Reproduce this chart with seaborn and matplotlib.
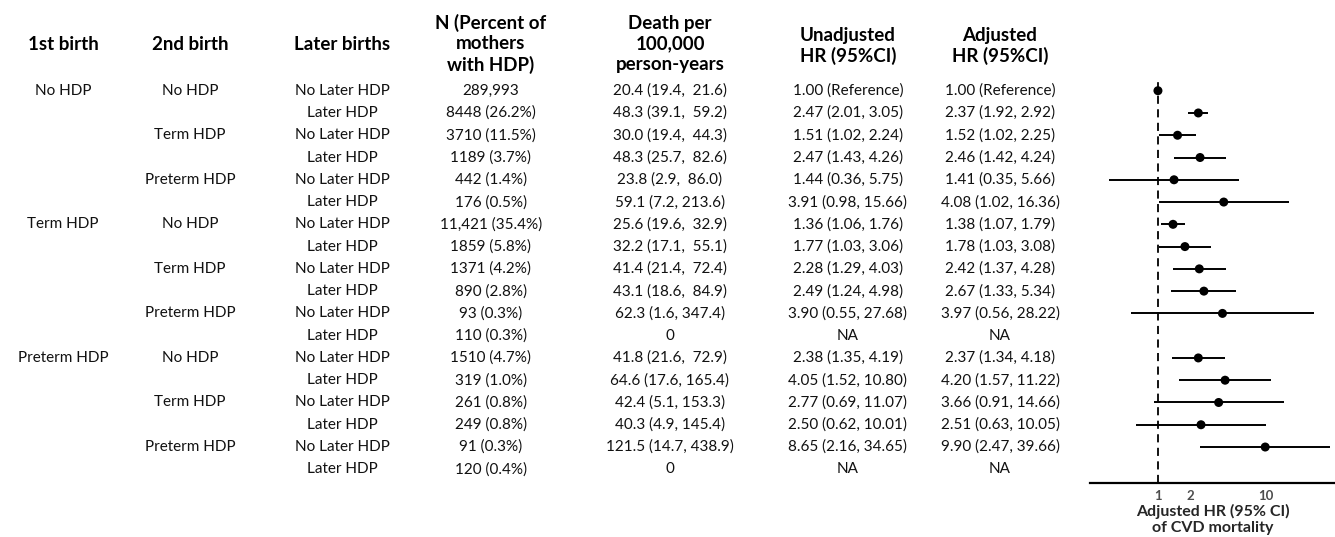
import numpy as np
import pandas as pd
import matplotlib
matplotlib.use("Agg")
import matplotlib.pyplot as plt
import matplotlib.transforms as mtransforms
import seaborn as sns

nan = np.nan

first_birth = ["No HDP", "", "", "", "", "", "Term HDP", "", "", "", "", "",
               "Preterm HDP", "", "", "", "", ""]
second_birth = ["No HDP", "", "Term HDP", "", "Preterm HDP", "",
                "No HDP", "", "Term HDP", "", "Preterm HDP", "",
                "No HDP", "", "Term HDP", "", "Preterm HDP", ""]
later_births = ["No Later HDP", "Later HDP"] * 9

n_text = ["289,993", "8448 (26.2%)", "3710 (11.5%)", "1189 (3.7%)", "442 (1.4%)",
          "176 (0.5%)", "11,421 (35.4%)", "1859 (5.8%)", "1371 (4.2%)", "890 (2.8%)",
          "93 (0.3%)", "110 (0.3%)", "1510 (4.7%)", "319 (1.0%)", "261 (0.8%)",
          "249 (0.8%)", "91 (0.3%)", "120 (0.4%)"]
death_text = ["20.4 (19.4,  21.6)", "48.3 (39.1,  59.2)", "30.0 (19.4,  44.3)",
              "48.3 (25.7,  82.6)", "23.8 (2.9,  86.0)", "59.1 (7.2, 213.6)",
              "25.6 (19.6,  32.9)", "32.2 (17.1,  55.1)", "41.4 (21.4,  72.4)",
              "43.1 (18.6,  84.9)", "62.3 (1.6, 347.4)", "0",
              "41.8 (21.6,  72.9)", "64.6 (17.6, 165.4)", "42.4 (5.1, 153.3)",
              "40.3 (4.9, 145.4)", "121.5 (14.7, 438.9)", "0"]

unadj_hr = [1.00, 2.47, 1.51, 2.47, 1.44, 3.91, 1.36, 1.77, 2.28, 2.49, 3.90, nan,
            2.38, 4.05, 2.77, 2.50, 8.65, nan]
unadj_lo = [nan, 2.01, 1.02, 1.43, 0.36, 0.98, 1.06, 1.03, 1.29, 1.24, 0.55, nan,
            1.35, 1.52, 0.69, 0.62, 2.16, nan]
unadj_hi = [nan, 3.05, 2.24, 4.26, 5.75, 15.66, 1.76, 3.06, 4.03, 4.98, 27.68, nan,
            4.19, 10.80, 11.07, 10.01, 34.65, nan]
adj_hr = [1.00, 2.37, 1.52, 2.46, 1.41, 4.08, 1.38, 1.78, 2.42, 2.67, 3.97, nan,
          2.37, 4.20, 3.66, 2.51, 9.90, nan]
adj_lo = [nan, 1.92, 1.02, 1.42, 0.35, 1.02, 1.07, 1.03, 1.37, 1.33, 0.56, nan,
          1.34, 1.57, 0.91, 0.63, 2.47, nan]
adj_hi = [nan, 2.92, 2.25, 4.24, 5.66, 16.36, 1.79, 3.08, 4.28, 5.34, 28.22, nan,
          4.18, 11.22, 14.66, 10.05, 39.66, nan]

headers = ["1st birth", "2nd birth", "Later births",
           "N (Percent of\nmothers\nwith HDP)", "Death per\n100,000\nperson-years",
           "Unadjusted\nHR (95%CI)", "Adjusted\nHR (95%CI)"]
x_ticks = [1, 2, 10]
x_label = "Adjusted HR (95% CI)\nof CVD mortality"


def fmt_hr(h, lo, hi):
    if np.isnan(h):
        return "NA"
    if np.isnan(lo):
        return f"{h:.2f} (Reference)"
    return f"{h:.2f} ({lo:.2f}, {hi:.2f})"


df = pd.DataFrame({
    "row": np.arange(len(n_text)),
    "first": first_birth, "second": second_birth, "later": later_births,
    "n": n_text, "death": death_text,
    "unadj": [fmt_hr(*t) for t in zip(unadj_hr, unadj_lo, unadj_hi)],
    "adj": [fmt_hr(*t) for t in zip(adj_hr, adj_lo, adj_hi)],
    "hr": adj_hr, "lo": adj_lo, "hi": adj_hi,
})

sns.set_theme(style="white")
plt.rcParams["font.family"] = ["Lato", "DejaVu Sans"]

W, H = 1335, 537
fig = plt.figure(figsize=(W / 100, H / 100), dpi=100)

# forest plot axes
row0_px, row_step = 90.7, 22.27
ax_left, ax_right = 1090, 1335
ax_top, ax_bot = 78, 482.7
ax = fig.add_axes([ax_left / W, 1 - ax_bot / H, (ax_right - ax_left) / W, (ax_bot - ax_top) / H])
ax.set_xscale("log")
ax.set_xlim(0.234, 44.0)
ax.set_ylim((ax_bot - row0_px) / row_step, (ax_top - row0_px) / row_step)

ax.axvline(1, color="black", lw=1.3, ls=(0, (4.5, 3)), zorder=1)
ci = df.dropna(subset=["lo"])
ax.hlines(ci["row"], ci["lo"], ci["hi"], color="black", lw=1.4, zorder=2)
pts = df.dropna(subset=["hr"])
sns.scatterplot(data=pts, x="hr", y="row", ax=ax, color="black", s=42,
                edgecolor="none", zorder=3, legend=False)

for s in ["top", "right", "left"]:
    ax.spines[s].set_visible(False)
ax.spines["bottom"].set_color("black")
ax.spines["bottom"].set_linewidth(1.6)
ax.set_yticks([])
ax.set_xticks(x_ticks)
ax.set_xticklabels([str(t) for t in x_ticks])
ax.minorticks_off()
ax.tick_params(axis="x", length=3, width=1, color="#4d4d4d", pad=2,
               labelsize=9.5, labelcolor="#4d4d4d")
for lab in ax.get_xticklabels():
    lab.set_fontweight("bold")
ax.set_xlabel(x_label, fontsize=11.5, fontweight="bold", labelpad=2, linespacing=1.15)
ax.set_ylabel("")

# table text
trans = mtransforms.blended_transform_factory(fig.transFigure, ax.transData)
col_x = [63, 190, 342, 491, 670, 848, 1000]
cols = ["first", "second", "later", "n", "death", "unadj", "adj"]
body_color = "#111111"
for cx, c in zip(col_x, cols):
    for r, t in zip(df["row"], df[c]):
        if t:
            ax.text(cx / W, r, t, transform=trans, ha="center", va="center",
                    fontsize=11, color=body_color, clip_on=False)

header_y = [45, 45, 45, 44, 44, 46, 46]
for cx, hy, t in zip(col_x, header_y, headers):
    fig.text(cx / W, 1 - hy / H, t, ha="center", va="center", fontsize=13.5,
             fontweight="bold", color="black", linespacing=1.25)

fig.savefig("out.png", dpi=100)
